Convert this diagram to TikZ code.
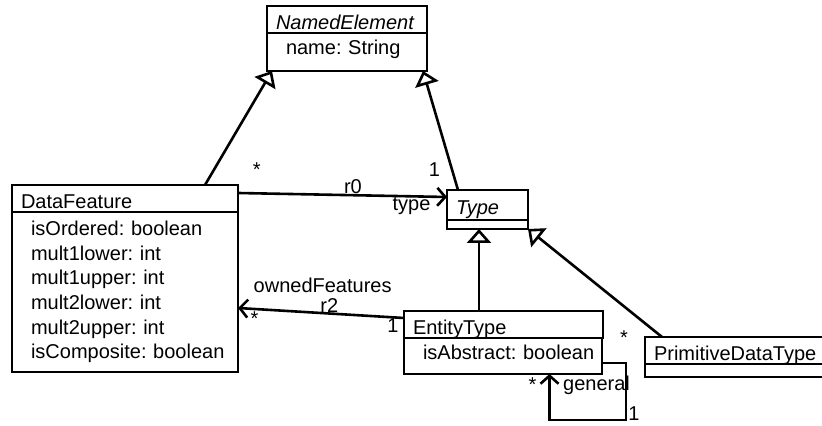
\documentclass[tikz,border=0pt]{standalone}
\usepackage{fontspec}
\setmainfont{Liberation Sans}
\usetikzlibrary{arrows.meta, positioning, calc}
\tikzset{
  umlhead/.style={draw,line width=1.3pt,outer sep=0pt,anchor=north west,align=left,
    inner xsep=4.5pt,inner ysep=0.5pt,text height=11.25pt,text depth=1.25pt,
    font=\fontsize{10}{12.3}\selectfont},
  umlbody/.style={draw,line width=1.3pt,outer sep=0pt,align=left,
    inner xsep=9.5pt,inner ysep=2.5pt,font=\fontsize{10}{12.3}\selectfont},
  umlline/.style={umlbody,text height=8pt,text depth=5pt},
  umlempty/.style={umlbody,inner ysep=0pt},
  gen/.style={line width=1.3pt,-{Triangle[open,length=7pt,width=12pt]}},
  assoc/.style={line width=1.3pt,-{Straight Barb[length=4pt,width=9pt]}},
  mult/.style={anchor=base,inner sep=0pt,font=\fontsize{10}{12}\selectfont},
}

\begin{document}
\begin{tikzpicture}[x=0.5pt,y=-0.5pt]
	\useasboundingbox (0,0) rectangle (822,426);
	\clip (0,0) rectangle (822,426);
	% classes
	\node[umlhead,text width=71pt] (nehead) at (267,6) {\textit{NamedElement}};
	\node[umlline,text width=61pt,minimum height=19pt,below right=0pt and 0pt of nehead.south west] (nebody) {name:~String};
	\node[umlhead,text width=104pt] (dfhead) at (12,185) {DataFeature};
	\node[umlbody,text width=94pt,minimum height=80pt,below right=0pt and 0pt of dfhead.south west] (dfbody)
	  {isOrdered:~boolean\\mult1lower:~int\\mult1upper:~int\\mult2lower:~int\\mult2upper:~int\\isComposite:~boolean};
	\node[umlhead,text width=31.5pt,minimum height=15pt] (typehead) at (447,190) {\textit{Type}};
	\node[umlempty,text width=21.5pt,minimum height=4.5pt,below right=0pt and 0pt of typehead.south west] (typebody) {};
	\node[umlhead,text width=90.5pt] (ethead) at (404,311) {EntityType};
	\node[umlline,text width=80pt,minimum height=18pt,below right=0pt and 0pt of ethead.south west] (etbody) {isAbstract:~boolean};
	\node[umlhead,text width=83.5pt] (pdthead) at (645,337) {PrimitiveDataType};
	\node[umlempty,text width=73.5pt,minimum height=6.5pt,below right=0pt and 0pt of pdthead.south west] (pdtbody) {};
	% generalizations
	\coordinate (etup) at ([xshift=-12.25pt]ethead.north);
	\draw[gen] ([xshift=40pt]dfhead.north) -- ([xshift=2.5pt]nebody.south west);
	\draw[gen] ([xshift=5.5pt]typehead.north west) -- ([xshift=-2pt]nebody.south east);
	\draw[gen] (etup) -- (etup |- typebody.south);
	\draw[gen] ([xshift=8.5pt]pdthead.north west)
	  node[mult,xshift=-19pt,yshift=-3.5pt] (pdtm) {*} -- (typebody.south east);
	% associations
	\draw[assoc] ([yshift=-4pt]dfhead.north east)
	  -- node[mult,pos=0.09,yshift=8.5pt] (r0srcm) {*}
	     node[mult,pos=0.55,yshift=1pt] (r0name) {r0}
	     node[mult,pos=0.94,yshift=10pt] (r0tgtm) {1}
	     node[mult,pos=0.83,yshift=-6.85pt] (r0role) {type}
	  ([yshift=-3.5pt]typehead.north west);
	\draw[assoc] ([yshift=-3.5pt]ethead.north west)
	  -- node[mult,pos=0.066,yshift=-7.35pt] (r2srcm) {1}
	     node[mult,pos=0.45,yshift=0.5pt] (r2name) {r2}
	     node[mult,pos=0.49,yshift=10.5pt] (r2role) {ownedFeatures}
	     node[mult,pos=0.9,yshift=-8.5pt] (r2tgtm) {*}
	  ([yshift=-8pt]dfbody.east);
	\coordinate (loopend) at ([xshift=23.25pt]etbody.south);
	\coordinate (loopbase) at ([yshift=-23pt]loopend);
	\draw[assoc] ([yshift=-3.5pt]etbody.east) -- ++(24,0)
	  |- node[mult,pos=0.5,xshift=4pt] (gentgtm) {1} (loopbase)
	  -- (loopend)
	     node[mult,xshift=-8.5pt,yshift=-8.5pt] (gensrcm) {*}
	     node[mult,xshift=23.5pt,yshift=-8pt] (genrole) {general};
\end{tikzpicture}
\end{document}
